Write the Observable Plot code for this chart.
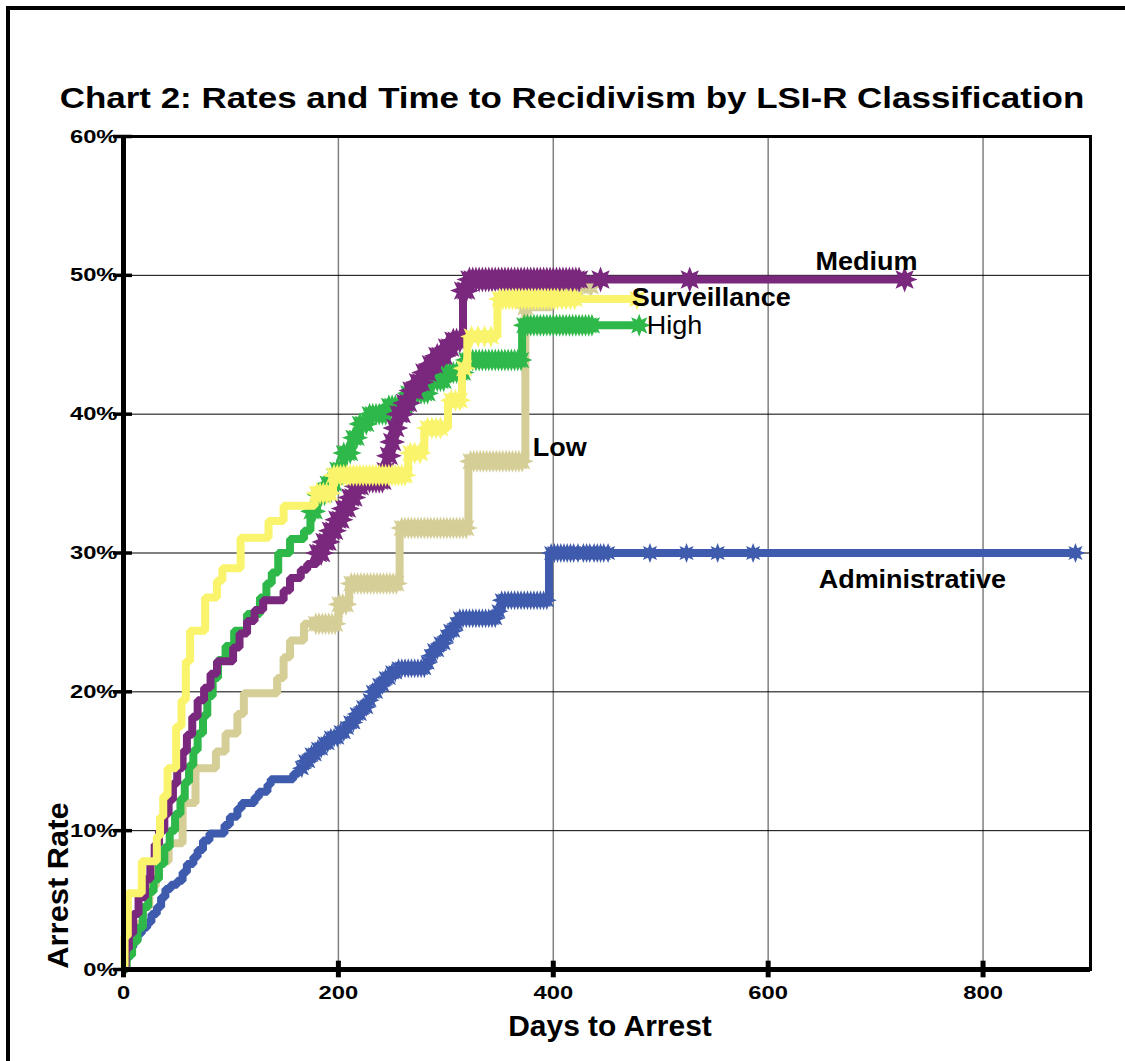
<!DOCTYPE html>
<html><head><meta charset="utf-8">
<script src="https://cdn.jsdelivr.net/npm/d3@7"></script>
<script src="https://cdn.jsdelivr.net/npm/@observablehq/plot@0.6"></script>
<style>
html,body{margin:0;padding:0;background:#fff;overflow:hidden;}
#wrap{position:relative;width:1125px;height:1061px;overflow:hidden;}
#chart{position:absolute;left:0;top:0;}
#border{position:absolute;left:6px;top:6px;width:1300px;height:1300px;border-top:4px solid #000;border-left:4px solid #000;pointer-events:none;}
</style></head><body>
<div id="wrap"><div id="chart"></div><div id="border"></div></div>
<script>
// ---------- texts ----------
const titleText = "Chart 2: Rates and Time to Recidivism by LSI-R Classification";
const xAxisLabel = "Days to Arrest";
const yAxisLabel = "Arrest Rate";

// ---------- ticks ----------
const xTicks = [0, 200, 400, 600, 800];
const xTickLabels = ["0", "200", "400", "600", "800"];
const yTicks = [0, 0.1, 0.2, 0.3, 0.4, 0.5, 0.6];
const yTickLabels = ["0%", "10%", "20%", "30%", "40%", "50%", "60%"];
const xGrid = [200, 400, 600, 800];
const yGrid = [0.1, 0.2, 0.3, 0.4, 0.5];

// ---------- series (step days, cumulative arrest rate % after step, last follow-up day, censored days) ----------
const adminDays = [0,2,5,9,13,17,22,26,31,35,39,44,50,55,59,65,69,74,80,94,99,106,110,122,126,134,137,158,163,168,174,180,186,193,200,206,211,216,221,227,232,237,242,248,256,283,286,289,294,299,304,308,312,348,352,396];
const adminRates = [0,0.8,1.6,2.1,2.6,3.0,3.4,4.0,4.5,5.2,5.8,6.1,6.4,7.0,7.6,8.1,8.6,9.3,9.8,10.4,11.0,11.6,12.0,12.4,12.8,13.3,13.7,14.1,14.5,15.0,15.5,15.9,16.3,16.7,17.1,17.4,17.8,18.4,18.9,19.4,20.0,20.5,21.0,21.4,21.7,22.1,22.6,23.0,23.5,24.0,24.4,24.9,25.3,25.8,26.6,30.0];
const adminEnd = 886;
const adminCensored = [166,169,172,175,178,181,184,187,190,193,196,199,202,205,208,211,214,217,220,223,226,229,232,235,238,241,244,247,250,253,256,259,262,265,268,271,274,277,280,283,286,289,292,295,298,301,304,307,310,313,316,319,322,325,328,331,334,337,340,343,346,349,352,355,358,361,364,367,370,373,376,379,382,385,388,391,394,398,401,404,407,410,413,416,419,423,428,431,434,438,441,444,447,451,490,524,553,586,886];

const lowDays = [0,2,6,12,18,24,30,42,55,67,86,95,106,112,143,149,155,168,200,210,257,321,374,398];
const lowRates = [0,1.5,2.6,3.3,4.5,6.0,7.8,9.1,12.0,14.5,15.7,17.0,18.4,19.9,21.0,22.5,23.7,24.9,26.3,27.8,31.8,36.6,47.7,49.2];
const lowEnd = 436;
const lowCensored = [179,182,185,188,191,194,197,201,204,207,212,215,218,221,224,227,230,233,236,239,242,245,248,251,254,259,262,265,268,271,274,277,280,283,286,289,292,295,298,301,304,307,310,313,316,319,323,326,329,332,335,338,341,344,347,350,353,356,359,362,365,368,371,374,402,408,414,420,426,435];

const highDays = [0,3,8,13,18,23,28,33,38,43,48,53,57,61,65,69,74,78,83,88,95,103,115,127,133,138,144,155,168,174,180,190,197,205,212,220,228,245,265,285,300,318,371];
const highRates = [0,1.0,2.0,3.0,4.5,5.6,6.5,7.6,8.8,10.0,11.2,12.3,13.5,14.7,15.8,17.0,18.3,19.7,21.0,22.3,23.3,24.4,25.6,26.8,27.8,28.6,30.0,31.0,31.6,33.0,34.2,35.0,36.0,37.2,38.3,39.3,40.0,40.6,41.5,42.4,43.0,43.9,46.4];
const highEnd = 481;
const highCensored = [175,178,181,184,187,190,193,196,199,202,205,208,211,214,217,220,223,226,229,232,235,238,241,244,247,250,253,256,259,262,265,268,271,274,277,280,283,286,289,292,295,298,301,304,307,310,313,316,319,322,325,328,331,334,337,340,343,346,349,352,355,358,361,364,367,370,373,376,379,382,385,388,391,394,397,400,403,406,409,412,415,418,421,424,427,430,433,436,480];

const mediumDays = [0,2,5,9,14,20,25,29,33,38,42,46,50,55,59,64,69,75,81,87,102,108,115,122,130,149,155,165,171,180,186,192,198,204,210,216,222,242,245,248,252,255,261,267,273,279,285,292,300,307,316,320];
const mediumRates = [0,1.5,2.6,4.0,5.2,6.5,7.8,9.0,10.0,11.2,12.2,13.4,14.5,15.7,16.9,18.2,19.4,20.3,21.3,22.2,23.2,24.2,25.1,25.9,26.6,27.3,28.2,28.8,29.2,30.0,30.8,31.6,32.4,33.2,34.0,34.8,35.2,35.9,37.0,38.0,39.0,40.0,40.8,41.7,42.3,43.0,43.6,44.2,44.8,45.3,48.9,49.7];
const mediumEnd = 728;
const mediumCensored = [181,184,187,190,193,196,199,202,205,208,211,214,217,220,223,226,229,232,235,238,241,244,247,250,253,256,259,262,265,268,271,274,277,280,283,286,289,292,295,298,301,304,307,310,313,316,319,322,325,328,331,334,337,340,343,346,349,352,355,358,361,364,367,370,373,376,379,382,385,388,391,394,397,400,403,406,409,412,415,418,421,424,444,527,727];

const survDays = [0,1,4,17,31,34,37,41,49,54,58,62,76,87,92,109,135,149,178,195,265,280,302,315,320,348];
const survRates = [0,2.4,5.5,7.8,9.6,11.0,12.5,14.5,17.5,19.4,22.2,24.4,26.8,28.0,28.9,31.1,32.3,33.4,34.3,35.6,37.2,39.0,41.0,43.3,45.6,48.3];
const survEnd = 479;
const survCensored = [180,183,186,189,192,196,199,202,205,208,211,214,217,220,223,226,229,232,235,238,241,244,247,250,253,256,259,262,267,271,276,283,287,291,295,305,309,313,317,324,330,336,342,350,353,356,359,362,365,368,371,374,377,380,383,386,389,392,395,398,401,404,408,412,416,420,478];

// ---------- series labels ----------
const labelNames = ["Medium", "Surveillance", "High", "Low", "Administrative"];
const labelDays = [644, 473, 487, 381, 647];
const labelRates = [50.4, 47.8, 45.8, 37.0, 27.5];
const labelWeights = ["bold", "bold", "normal", "bold", "bold"];

// ---------- build ----------
const series = [
  {name: "Administrative", color: "#3F5BAD", days: adminDays, rates: adminRates, end: adminEnd, cens: adminCensored, r: 10},
  {name: "Low", color: "#D5CE97", days: lowDays, rates: lowRates, end: lowEnd, cens: lowCensored, r: 11.5},
  {name: "High", color: "#2FB84A", days: highDays, rates: highRates, end: highEnd, cens: highCensored, r: 11.5},
  {name: "Medium", color: "#7A287D", days: mediumDays, rates: mediumRates, end: mediumEnd, cens: mediumCensored, r: 13},
  {name: "Surveillance", color: "#F9F46B", days: survDays, rates: survRates, end: survEnd, cens: survCensored, r: 11.5}
];

function rateAt(s, d) {
  let v = s.rates[0];
  for (let i = 0; i < s.days.length; i++) if (s.days[i] <= d) v = s.rates[i];
  return v / 100;
}

// 8-point spiky star of a fixed outer radius R (pixels)
function makeStar(R) {
  return {
    draw(ctx) {
      const r = R * 0.52, n = 8;
      for (let i = 0; i < 2 * n; i++) {
        const a = Math.PI * i / n - Math.PI / 2;
        const rad = i % 2 ? r : R;
        const px = rad * Math.cos(a), py = rad * Math.sin(a);
        if (i === 0) ctx.moveTo(px, py); else ctx.lineTo(px, py);
      }
      ctx.closePath();
    }
  };
}

const seriesMarks = [];
for (const s of series) {
  const pts = s.days.map((d, i) => ({day: d, rate: s.rates[i] / 100}));
  pts.push({day: s.end, rate: s.rates[s.rates.length - 1] / 100});
  seriesMarks.push(Plot.line(pts, {x: "day", y: "rate", curve: "step-after", stroke: s.color, strokeWidth: 8, strokeLinejoin: "miter", strokeLinecap: "butt"}));
  const cp = s.cens.map(d => ({day: d, rate: rateAt(s, d)}));
  seriesMarks.push(Plot.dot(cp, {x: "day", y: "rate", r: s.r, symbol: makeStar(s.r), fill: s.color, stroke: "none"}));
}

const labels = labelNames.map((n, i) => ({name: n, day: labelDays[i], rate: labelRates[i] / 100, w: labelWeights[i]}));

const FONT = "Liberation Sans, Arial, Helvetica, sans-serif";

const chart = Plot.plot({
  width: 1125,
  height: 1061,
  marginLeft: 123,
  marginRight: 35,
  marginTop: 136,
  marginBottom: 92,
  style: {fontFamily: FONT, background: "transparent", color: "black"},
  x: {domain: [0, 900], axis: null},
  y: {domain: [0, 0.6], axis: null},
  marks: [
    Plot.ruleX(xGrid, {stroke: "#808080", strokeWidth: 1.5}),
    Plot.ruleY(yGrid, {stroke: "black", strokeWidth: 1}),
    ...seriesMarks,
    Plot.text(labels.filter(d => d.w === "bold"), {x: "day", y: "rate", text: "name", textAnchor: "start", lineAnchor: "bottom", fontSize: 25, fontWeight: "bold", fill: "black"}),
    Plot.text(labels.filter(d => d.w !== "bold"), {x: "day", y: "rate", text: "name", textAnchor: "start", lineAnchor: "bottom", fontSize: 25, fontWeight: "normal", fill: "black"}),
    Plot.frame({stroke: "black", strokeWidth: 3}),
    Plot.ruleX([0], {stroke: "black", strokeWidth: 5}),
    Plot.ruleY([0], {stroke: "black", strokeWidth: 5}),
    Plot.ruleY(yTicks, {x1: -9.3, x2: 8.4, stroke: "black", strokeWidth: 3.5}),
    Plot.ruleX(xTicks, {y1: -0.006, y2: 0.006, stroke: "black", strokeWidth: 5}),
    Plot.text(yTicks, {x: 0, y: d => d, text: (d, i) => yTickLabels[i], textAnchor: "end", lineAnchor: "middle", dx: -6, fontSize: 19, fontWeight: "bold", fill: "black"}),
    Plot.text(xTicks, {x: d => d, y: 0, text: (d, i) => xTickLabels[i], textAnchor: "middle", lineAnchor: "middle", dy: 23, fontSize: 19, fontWeight: "bold", fill: "black"}),
    Plot.text([titleText], {frameAnchor: "top", text: d => d, dx: -35, dy: -29, lineAnchor: "bottom", fontSize: 29, fontWeight: "bold", fill: "black"}),
    Plot.text([xAxisLabel], {frameAnchor: "bottom", text: d => d, dx: 3, dy: 66, lineAnchor: "bottom", fontSize: 29, fontWeight: "bold", fill: "black"}),
    Plot.text([yAxisLabel], {frameAnchor: "bottom-left", text: d => d, dx: -56, dy: -84, rotate: -90, textAnchor: "middle", lineAnchor: "bottom", fontSize: 29, fontWeight: "bold", fill: "black"})
  ]
});

// horizontal stretch of the lettering, as in the reference
const stretchFor = (s) => {
  if (s === titleText) return 1.205;
  if (s === xAxisLabel) return 1.033;
  if (s === yAxisLabel) return 1.064;
  if (xTickLabels.includes(s) || yTickLabels.includes(s)) return 1.25;
  if (labelNames.includes(s)) return 1.08;
  return 1;
};
d3.select(chart).selectAll("text").each(function () {
  const sx = stretchFor(this.textContent);
  if (sx === 1) return;
  const t = this.getAttribute("transform") || "";
  this.setAttribute("transform", `${t} scale(${sx},1)`);
});

document.getElementById("chart").appendChild(chart);
</script></body></html>
